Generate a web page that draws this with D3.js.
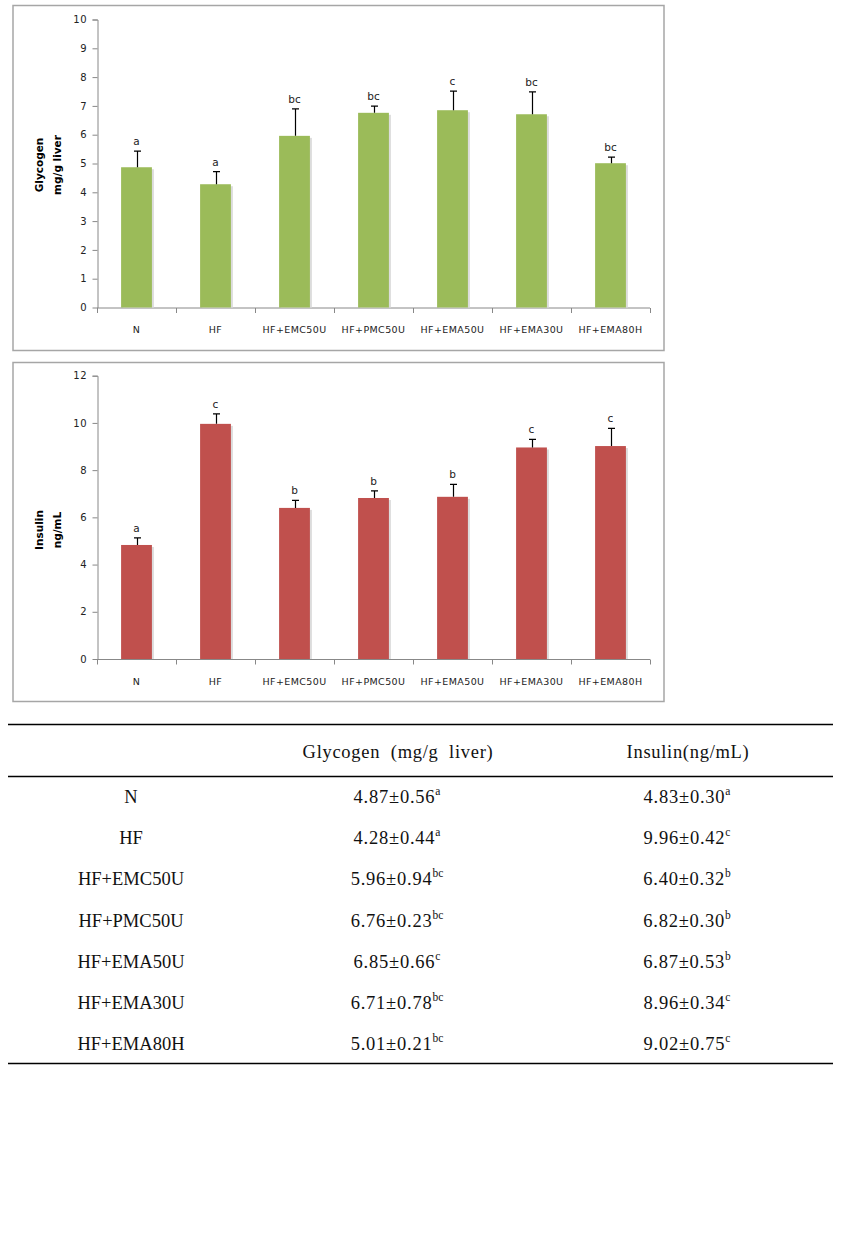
<!DOCTYPE html>
<html><head><meta charset="utf-8">
<script src="https://cdn.jsdelivr.net/npm/d3@7/dist/d3.min.js"></script>
<style>body{margin:0;background:#fff}svg{display:block}</style>
</head><body>
<svg id="c" width="861" height="1242"></svg>
<script>
const groups = ["N","HF","HF+EMC50U","HF+PMC50U","HF+EMA50U","HF+EMA30U","HF+EMA80H"];
const glycogenMean = [4.87,4.28,5.96,6.76,6.85,6.71,5.01];
const glycogenSD   = [0.56,0.44,0.94,0.23,0.66,0.78,0.21];
const glycogenSig  = ["a","a","bc","bc","c","bc","bc"];
const insulinMean  = [4.83,9.96,6.40,6.82,6.87,8.96,9.02];
const insulinSD    = [0.30,0.42,0.32,0.30,0.53,0.34,0.75];
const insulinSig   = ["a","c","b","b","b","c","c"];
const glycogenTicks = [0,1,2,3,4,5,6,7,8,9,10];
const insulinTicks  = [0,2,4,6,8,10,12];
const tableHeaders = ["Glycogen  (mg/g  liver)","Insulin(ng/mL)"];

const svg = d3.select("#c");
const sans = "'DejaVu Sans', Verdana, sans-serif";
const serif = "'Liberation Serif', 'Times New Roman', serif";

function chart(o){
  const g = svg.append("g");
  g.append("rect").attr("x",o.box[0]+0.5).attr("y",o.box[1]+0.5)
    .attr("width",o.box[2]).attr("height",o.box[3])
    .attr("fill","#fff").attr("stroke","#a6a6a6").attr("stroke-width",1.5);
  const x = d3.scaleBand().domain(groups).range([97,650]).paddingInner(0.61).paddingOuter(0.305);
  const y = d3.scaleLinear().domain([0,o.max]).range([o.y0,o.y1]);
  const ya = g.append("g").attr("transform","translate(97.5,0)")
    .call(d3.axisLeft(y).tickValues(o.ticks).tickSize(5).tickPadding(5).tickFormat(d3.format("d")));
  ya.select(".domain").attr("stroke","#888").attr("d",`M-5,${y(o.max)+0.5}H0.5V${y(0)+0.5}`);
  ya.selectAll(".tick line").attr("stroke","#888");
  ya.selectAll(".tick text").attr("font-family",sans).attr("font-size",10).attr("fill","#222").attr("letter-spacing",0.8);
  const xa = g.append("g").attr("transform",`translate(0,${y(0)+0.5})`);
  xa.append("line").attr("x1",97).attr("x2",650).attr("stroke","#888");
  const edges = d3.range(groups.length+1).map(i=>97+i*(650-97)/groups.length);
  xa.selectAll("line.t").data(edges).join("line").attr("class","t")
    .attr("x1",d=>Math.round(d)+0.5).attr("x2",d=>Math.round(d)+0.5).attr("y1",0).attr("y2",5).attr("stroke","#888");
  xa.selectAll("text").data(groups).join("text")
    .attr("x",d=>x(d)+x.bandwidth()/2).attr("y",25)
    .attr("text-anchor","middle").attr("font-family",sans).attr("font-size",9.5).attr("letter-spacing",0.4).attr("fill","#222")
    .text(d=>d);
  g.selectAll("rect.sh").data(groups).join("rect").attr("class","sh")
    .attr("x",d=>x(d)+2).attr("y",(d,i)=>y(o.mean[i])+2)
    .attr("width",x.bandwidth()).attr("height",(d,i)=>y(0)-y(o.mean[i])-2)
    .attr("fill","#dcdcdc");
  g.selectAll("rect.b").data(groups).join("rect").attr("class","b")
    .attr("x",d=>x(d)).attr("y",(d,i)=>y(o.mean[i]))
    .attr("width",x.bandwidth()).attr("height",(d,i)=>y(0)-y(o.mean[i]))
    .attr("fill",o.color);
  const cx = d=>Math.round(x(d)+x.bandwidth()/2)+0.5;
  g.selectAll("path.e").data(groups).join("path").attr("class","e")
    .attr("d",(d,i)=>{const t=y(o.mean[i]+o.sd[i]);return `M${cx(d)},${y(o.mean[i])}V${t}M${cx(d)-3.5},${t}H${cx(d)+3.5}`;})
    .attr("stroke","#000").attr("stroke-width",1.2).attr("fill","none");
  g.selectAll("text.s").data(groups).join("text").attr("class","s")
    .attr("x",d=>x(d)+x.bandwidth()/2).attr("y",(d,i)=>y(o.mean[i]+o.sd[i])-6)
    .attr("text-anchor","middle").attr("font-family",sans).attr("font-size",10.5).attr("fill","#222")
    .text((d,i)=>o.sig[i]);
  const tt = g.append("text").attr("transform",`translate(0,${o.titleY}) rotate(-90)`)
    .attr("text-anchor","middle").attr("font-family",sans).attr("font-weight","bold").attr("font-size",10.5).attr("fill","#000");
  tt.append("tspan").attr("x",0).attr("y",43).text(o.title[0]);
  tt.append("tspan").attr("x",0).attr("y",61).text(o.title[1]);
}

chart({box:[12.5,5,651,345], max:10, ticks:glycogenTicks, y0:307.5, y1:19.5, mean:glycogenMean, sd:glycogenSD, sig:glycogenSig,
  color:"#9bbb59", title:["Glycogen","mg/g liver"], titleY:165});
chart({box:[12.5,362,651,339], max:12, ticks:insulinTicks, y0:659, y1:375.7, mean:insulinMean, sd:insulinSD, sig:insulinSig,
  color:"#c0504d", title:["Insulin","ng/mL"], titleY:530});

// table
const tb = svg.append("g");
[724.5, 776.5, 1063.5].forEach(yy=>tb.append("line").attr("x1",8).attr("x2",833).attr("y1",yy).attr("y2",yy).attr("stroke","#000").attr("stroke-width",1.3));
const colX = [131, 393, 684];
tb.selectAll("text.h").data(tableHeaders).join("text").attr("class","h")
  .attr("x",(d,i)=>i===0?398:688).attr("y",758).attr("text-anchor","middle")
  .attr("font-family",serif).attr("font-size",18.5).attr("letter-spacing",0.7).attr("fill","#111").style("white-space","pre").text(d=>d);
const ry = d3.scalePoint().domain(groups).range([803,1050]);
tb.selectAll("text.r").data(groups).join("text").attr("class","r")
  .attr("x",colX[0]).attr("y",d=>ry(d)).attr("text-anchor","middle")
  .attr("font-family",serif).attr("font-size",18.5).attr("fill","#111").text(d=>d);
function valCol(mean, sd, sig, cx){
  groups.forEach((gname,i)=>{
    const t = tb.append("text").attr("x",cx).attr("y",ry(gname)).attr("text-anchor","middle")
      .attr("font-family",serif).attr("font-size",18.5).attr("fill","#111");
    t.append("tspan").attr("letter-spacing",0.75).text(mean[i].toFixed(2)+"±"+sd[i].toFixed(2));
    t.append("tspan").attr("dy",-8).attr("font-size",11.5).text(sig[i]);
  });
}
valCol(glycogenMean, glycogenSD, glycogenSig, colX[1]+4);
valCol(insulinMean, insulinSD, insulinSig, colX[2]+3);
</script>
</body></html>
